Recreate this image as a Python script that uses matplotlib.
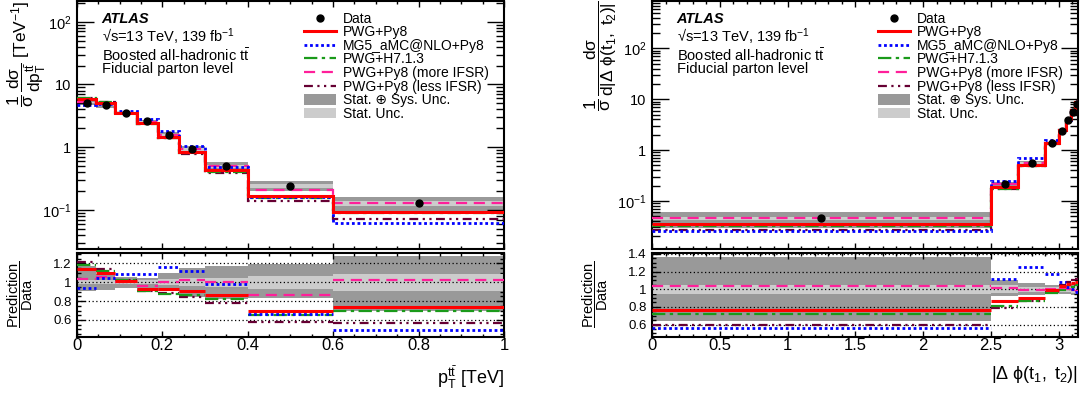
import numpy as np
import matplotlib.pyplot as plt
from matplotlib.patches import Patch
from matplotlib.lines import Line2D
from matplotlib.ticker import MultipleLocator, LogLocator, NullFormatter

plt.rcParams['font.family'] = ['Liberation Sans', 'DejaVu Sans']
plt.rcParams['mathtext.fontset'] = 'custom'
plt.rcParams['mathtext.rm'] = 'Liberation Sans'
plt.rcParams['mathtext.it'] = 'Liberation Sans'
plt.rcParams['mathtext.bf'] = 'Liberation Sans:bold'
plt.rcParams['mathtext.sf'] = 'Liberation Sans'

# --- pT(ttbar) distribution ---
pt_edges = [0, 0.045, 0.09, 0.14, 0.19, 0.24, 0.3, 0.4, 0.6, 1.0]
pt_data = [5.1, 4.65, 3.48, 2.57, 1.57, 0.92, 0.495, 0.24, 0.127]
pt_tot_up = [0.17, 0.09, 0.06, 0.05, 0.10, 0.15, 0.17, 0.19, 0.28]
pt_tot_dn = [0.09, 0.08, 0.06, 0.08, 0.09, 0.16, 0.18, 0.17, 0.30]
pt_stat = [0.02, 0.02, 0.02, 0.02, 0.03, 0.04, 0.05, 0.07, 0.09]
pt_ratio_pwg = [1.14, 1.10, 1.01, 0.93, 0.93, 0.91, 0.87, 0.69, 0.74]
pt_ratio_mg5 = [0.94, 1.045, 1.09, 1.09, 1.16, 1.12, 0.98, 0.66, 0.49]
pt_ratio_h7 = [1.18, 1.12, 1.02, 0.91, 0.88, 0.87, 0.82, 0.65, 0.70]
pt_ratio_more = [1.035, 1.06, 1.0, 0.965, 1.0, 1.025, 1.0, 0.86, 1.02]
pt_ratio_less = [1.21, 1.14, 1.025, 0.905, 0.885, 0.845, 0.775, 0.575, 0.565]

# --- |delta phi(t1, t2)| distribution ---
dphi_edges = [0, 2.5, 2.7, 2.9, 3.0, 3.05, 3.09, 3.12, np.pi]
dphi_data = [0.045, 0.215, 0.556, 1.37, 2.39, 3.82, 5.7, 8.1]
dphi_tot_up = [0.36, 0.10, 0.07, 0.05, 0.05, 0.05, 0.06, 0.07]
dphi_tot_dn = [0.36, 0.08, 0.06, 0.04, 0.05, 0.05, 0.06, 0.07]
dphi_stat = [0.05, 0.045, 0.03, 0.02, 0.03, 0.03, 0.04, 0.05]
dphi_ratio_pwg = [0.77, 0.865, 0.905, 0.99, 1.035, 1.06, 1.07, 1.08]
dphi_ratio_mg5 = [0.556, 1.12, 1.25, 1.17, 1.085, 1.03, 1.0, 0.97]
dphi_ratio_h7 = [0.72, 0.81, 0.865, 0.96, 0.99, 1.0, 1.03, 1.05]
dphi_ratio_more = [1.04, 1.01, 0.99, 1.0, 1.01, 1.0, 0.99, 0.98]
dphi_ratio_less = [0.595, 0.79, 0.865, 0.97, 1.05, 1.08, 1.1, 1.12]

models = ["PWG+Py8", "MG5_aMC@NLO+Py8", "PWG+H7.1.3",
          "PWG+Py8 (more IFSR)", "PWG+Py8 (less IFSR)"]
colors = ["#ff0000", "#0000ff", "#1a9a1a", "#ff1f9a", "#660033"]
styles = ["-", (0, (1, 1)), (0, (6, 2, 1.5, 2)), (0, (5, 3)), (0, (4, 2, 1, 2, 1, 2))]
lws = [2.2, 2.0, 1.6, 1.6, 1.6]
zs = [7, 6, 4, 5, 3]
dark, light = "#999999", "#cccccc"


def draw(ax, axr, edges, data, tot_up, tot_dn, stat, ratios, xlim, rlim, rgrid):
    edges = np.array(edges)
    data = np.array(data)
    left = edges[:-1]
    width = np.diff(edges)
    centers = left + width / 2
    tu, td, st = np.array(tot_up), np.array(tot_dn), np.array(stat)

    # top panel: uncertainty boxes, predictions, data
    ax.bar(left, data * (tu + td), bottom=data * (1 - td), width=width,
           align="edge", color=dark, lw=0, zorder=1)
    ax.bar(left, data * 2 * st, bottom=data * (1 - st), width=width,
           align="edge", color=light, lw=0, zorder=2)
    for r, c, s, lw, z in zip(ratios, colors, styles, lws, zs):
        ax.stairs(data * np.array(r), edges, baseline=None, color=c,
                  ls=s, lw=lw, zorder=z)
    ax.plot(centers, data, "o", color="k", ms=5, zorder=10)
    ax.set_yscale("log")
    ax.set_xlim(xlim)

    # ratio panel
    axr.bar(left, tu + td, bottom=1 - td, width=width, align="edge",
            color=dark, lw=0, zorder=1)
    axr.bar(left, 2 * st, bottom=1 - st, width=width, align="edge",
            color=light, lw=0, zorder=2)
    for g in rgrid:
        axr.axhline(g, color="k", ls=(0, (1, 2)), lw=0.9, zorder=3)
    for r, c, s, lw, z in zip(ratios, colors, styles, lws, zs):
        axr.hlines(r, left, edges[1:], color=c, ls=s, lw=lw, zorder=z + 3)
    axr.set_xlim(xlim)
    axr.set_ylim(rlim)

    for a in (ax, axr):
        for sp in a.spines.values():
            sp.set_linewidth(1.5)
        a.tick_params(which="both", direction="in", top=True, right=True, width=1)
    ax.tick_params(axis="x", which="major", length=4, labelbottom=False)
    ax.tick_params(axis="x", which="minor", length=2)
    ax.tick_params(axis="y", which="major", length=12, labelsize=10.5, pad=4)
    ax.tick_params(axis="y", which="minor", length=6)
    ax.set_yticks([0.1, 1, 10, 100])
    ax.set_yticklabels([r"$10^{-1}$", "1", "10", r"$10^{2}$"])
    ax.yaxis.set_minor_locator(LogLocator(subs=np.arange(2, 10), numticks=20))
    ax.yaxis.set_minor_formatter(NullFormatter())
    axr.tick_params(axis="x", which="major", length=4, labelsize=12, pad=1)
    axr.tick_params(axis="x", which="minor", length=2)
    axr.tick_params(axis="y", which="major", length=6, labelsize=9.5, pad=4)
    axr.tick_params(axis="y", which="minor", length=3)
    axr.yaxis.set_major_locator(MultipleLocator(0.2))
    axr.yaxis.set_minor_locator(MultipleLocator(0.05))
    axr.yaxis.set_major_formatter(lambda v, p: f"{v:g}")
    axr.xaxis.set_major_formatter(lambda v, p: f"{v:g}")

    # labels and legend
    ax.text(0.058, 0.928, "ATLAS", transform=ax.transAxes, fontsize=10.5,
            fontweight="bold", fontstyle="italic", va="center")
    ax.text(0.058, 0.855, "\u221as=13 TeV, 139 fb$^{-1}$", transform=ax.transAxes,
            fontsize=10.5, va="center")
    ax.text(0.058, 0.781, r"Boosted all-hadronic t$\bar{t}$", transform=ax.transAxes,
            fontsize=10.5, va="center")
    ax.text(0.058, 0.725, "Fiducial parton level", transform=ax.transAxes,
            fontsize=10.5, va="center")

    handles = [Line2D([], [], marker="o", color="k", ls="none", ms=5)]
    for c, s, lw in zip(colors, styles, lws):
        handles.append(Line2D([], [], color=c, ls=s, lw=lw))
    handles += [Patch(facecolor=dark, lw=0), Patch(facecolor=light, lw=0)]
    labels = ["Data"] + models + ["Stat. \u2295 Sys. Unc.", "Stat. Unc."]
    ax.legend(handles, labels, loc="upper left", bbox_to_anchor=(0.526, 0.965),
              frameon=False, fontsize=10, handlelength=2.3, handleheight=0.8,
              handletextpad=0.5, labelspacing=-0.03, borderpad=0.15,
              borderaxespad=0)


fig = plt.figure(figsize=(10.87, 3.98), dpi=100)
ax1 = fig.add_axes([0.0708, 0.3756, 0.3928, 0.6219])
ax1r = fig.add_axes([0.0708, 0.1533, 0.3928, 0.2111])
ax2 = fig.add_axes([0.5998, 0.3756, 0.3919, 0.6219])
ax2r = fig.add_axes([0.5998, 0.1533, 0.3919, 0.2111])

draw(ax1, ax1r, pt_edges, pt_data, pt_tot_up, pt_tot_dn, pt_stat,
     [pt_ratio_pwg, pt_ratio_mg5, pt_ratio_h7, pt_ratio_more, pt_ratio_less],
     (0, 1), (0.42, 1.31), [0.6, 0.8, 1.0, 1.2])
draw(ax2, ax2r, dphi_edges, dphi_data, dphi_tot_up, dphi_tot_dn, dphi_stat,
     [dphi_ratio_pwg, dphi_ratio_mg5, dphi_ratio_h7, dphi_ratio_more, dphi_ratio_less],
     (0, np.pi), (0.46, 1.41), [0.6, 0.8, 1.0, 1.2, 1.4])

ax1.set_ylim(0.0243, 214)
ax2.set_ylim(0.0115, 860)
ax1r.xaxis.set_major_locator(MultipleLocator(0.2))
ax1r.xaxis.set_minor_locator(MultipleLocator(0.05))
ax1.xaxis.set_major_locator(MultipleLocator(0.2))
ax1.xaxis.set_minor_locator(MultipleLocator(0.05))
ax2r.xaxis.set_major_locator(MultipleLocator(0.5))
ax2r.xaxis.set_minor_locator(MultipleLocator(0.1))
ax2.xaxis.set_major_locator(MultipleLocator(0.5))
ax2.xaxis.set_minor_locator(MultipleLocator(0.1))

ax1.set_ylabel(r"$\dfrac{1}{\sigma}\,\dfrac{d\sigma}{dp_{T}^{t\bar{t}}}$ [TeV$^{-1}$]",
               loc="top", fontsize=12.5)
ax1.yaxis.set_label_coords(-0.068, 1.0)
ax2.set_ylabel(r"$\dfrac{1}{\sigma}\,\dfrac{d\sigma}{d|\Delta\ \phi(t_{1},\ t_{2})|}$",
               loc="top", fontsize=12.5)
ax2.yaxis.set_label_coords(-0.078, 1.0)
for a in (ax1r, ax2r):
    a.set_ylabel(r"$\dfrac{\mathrm{Prediction}}{\mathrm{Data}}$", fontsize=10.5)
    a.yaxis.set_label_coords(-0.098, 0.5)
ax1r.set_xlabel(r"p$_{T}^{t\bar{t}}$ [TeV]", loc="right", fontsize=13, labelpad=8)
ax2r.set_xlabel(r"$|\Delta\ \phi(t_{1},\ t_{2})|$", loc="right", fontsize=13, labelpad=8)

fig.savefig("out.png", dpi=100)
